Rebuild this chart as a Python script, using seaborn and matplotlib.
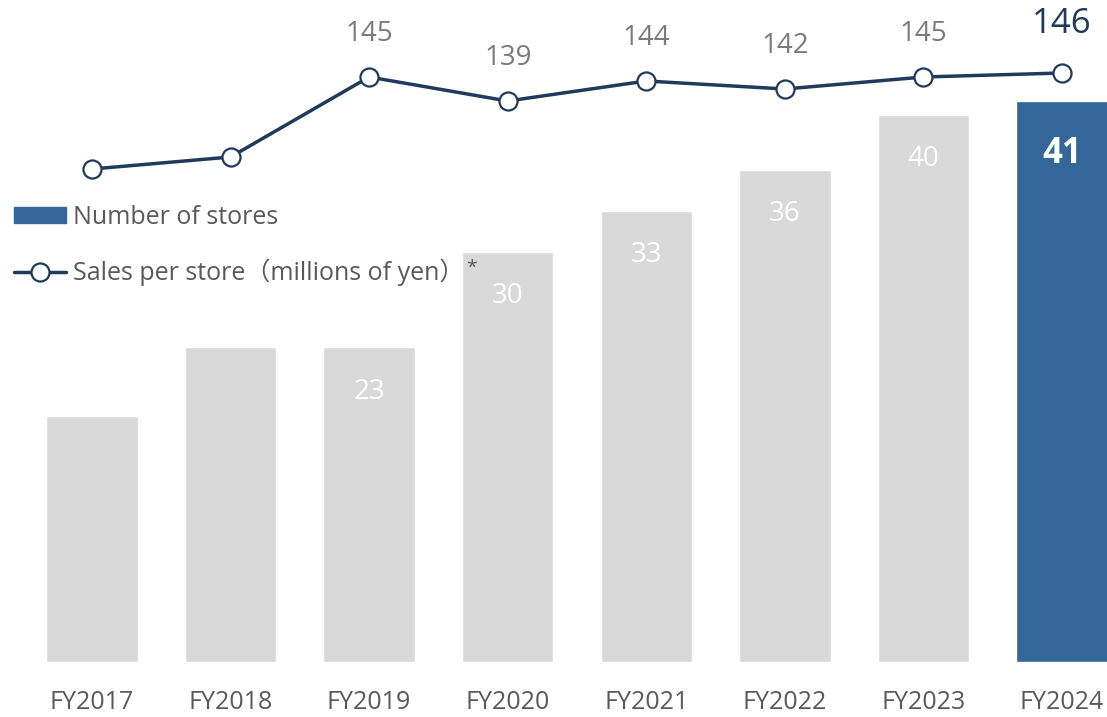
import matplotlib
matplotlib.use("Agg")
import numpy as np
import pandas as pd
import matplotlib.pyplot as plt
import seaborn as sns

# data
years = ["FY2017", "FY2018", "FY2019", "FY2020", "FY2021", "FY2022", "FY2023", "FY2024"]
stores = [18, 23, 23, 30, 33, 36, 40, 41]
store_labels = [None, None, "23", "30", "33", "36", "40", "41"]
sales = [122, 125, 145, 139, 144, 142, 145, 146]
sales_labels = [None, None, "145", "139", "144", "142", "145", "146"]

GREY_BAR = "#d9d9d9"
BLUE_BAR = "#336699"
NAVY = "#1f3a5a"
GREY_TXT = "#7a7a7a"
TICK_TXT = "#595959"

sns.set_style("white")
plt.rcParams["font.family"] = ["Open Sans", "Noto Sans CJK JP", "DejaVu Sans"]

df = pd.DataFrame({"year": years, "stores": stores, "sales": sales})

fig = plt.figure(figsize=(11.07, 7.17), dpi=100)
ax = fig.add_axes([0, 55 / 717, 1, 662 / 717])

colors = [GREY_BAR] * (len(years) - 1) + [BLUE_BAR]
sns.barplot(data=df, x="year", y="stores", hue="year", palette=colors,
            width=0.66, saturation=1, legend=False, ax=ax)
ax.set_xlim(-92 / 138.57, (1107 - 92) / 138.57)
ax.set_ylim(0, 662 / 13.68)
ax.set_xlabel("")
ax.set_ylabel("")
ax.set_yticks([])
ax.tick_params(axis="x", length=0, pad=20, labelsize=18, labelcolor=TICK_TXT)
sns.despine(ax=ax, left=True, bottom=True)

# labels inside bars
for i, (v, lab) in enumerate(zip(stores, store_labels)):
    if lab is None:
        continue
    last = i == len(years) - 1
    ax.annotate(lab, (i, v), xytext=(0, -38 if last else -32), textcoords="offset points",
                ha="center", va="center", color="white",
                fontsize=25 if last else 20, fontweight="bold" if last else "normal")

# line on twin axis
ax2 = ax.twinx()
sns.lineplot(x=np.arange(len(years)), y=sales, ax=ax2, color=NAVY, linewidth=2.5,
             marker="o", markersize=13, markerfacecolor="white",
             markeredgecolor=NAVY, markeredgewidth=1.6)
ax2.set_ylim(146 - (662 - 73) / 4, 146 + 73 / 4)
ax2.set_xlim(ax.get_xlim())
ax2.set_yticks([])
ax2.set_ylabel("")
sns.despine(ax=ax2, left=True, bottom=True, right=True)

for i, (v, lab) in enumerate(zip(sales, sales_labels)):
    if lab is None:
        continue
    last = i == len(years) - 1
    ax2.annotate(lab, (i, v), xytext=(0, 35 if last else 31), textcoords="offset points",
                 ha="center", va="center", color=NAVY if last else GREY_TXT,
                 fontsize=25 if last else 20)

# legend
h_bar = matplotlib.patches.Patch(color=BLUE_BAR)
h_line = matplotlib.lines.Line2D([], [], color=NAVY, linewidth=2.5, marker="o",
                                 markersize=13, markerfacecolor="white",
                                 markeredgecolor=NAVY, markeredgewidth=1.6)
leg = ax2.legend([h_bar, h_line],
                 ["Number of stores", "Sales per store（millions of yen）"],
                 loc="upper left", bbox_to_anchor=(14 / 1107, 1 - 205 / 662),
                 frameon=False, fontsize=18, handlelength=2.08, handleheight=0.6,
                 handletextpad=0.28, labelspacing=1.15, borderpad=0, borderaxespad=0)
for t in leg.get_texts():
    t.set_color(TICK_TXT)
fig.text(472 / 1107, 1 - 268 / 717, "*", fontsize=14, color=TICK_TXT,
         ha="center", va="center")

fig.savefig("out.png", dpi=100)
